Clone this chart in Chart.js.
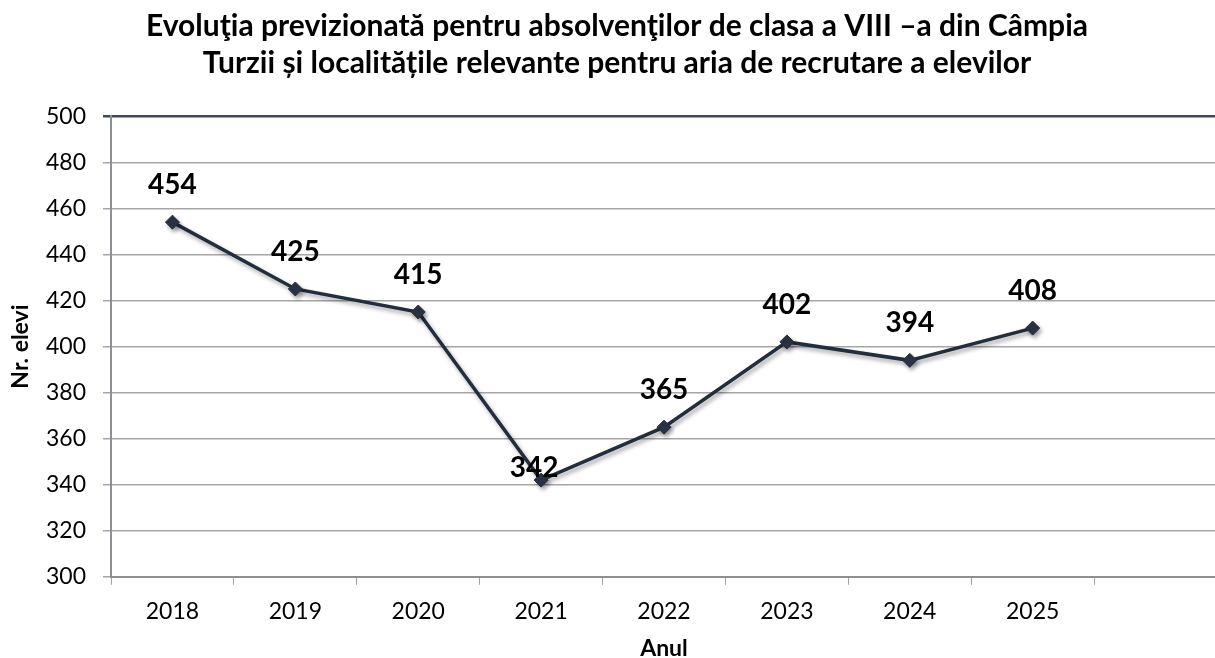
<!DOCTYPE html>
<html>
<head>
<meta charset="utf-8">
<script src="https://cdn.jsdelivr.net/npm/chart.js@4"></script>
<style>
  html, body { margin: 0; padding: 0; background: #fff; overflow: hidden; }
  /* a bit wider than the window: the last category is cut off at the right edge */
  #wrap { width: 1225px; height: 658px; }
  canvas { display: block; }
</style>
</head>
<body>
<div id="wrap"><canvas id="chart"></canvas></div>
<script>
// Chart data
const years = ['2018', '2019', '2020', '2021', '2022', '2023', '2024', '2025', ''];
const students = [454, 425, 415, 342, 365, 402, 394, 408, null];
const yTicks = [300, 320, 340, 360, 380, 400, 420, 440, 460, 480, 500];

const titleLines = [
  'Evoluţia previzionată pentru absolvenţilor de clasa a VIII –a din Câmpia',
  'Turzii și localitățile relevante pentru aria de recrutare a elevilor'
];

const FONT = 'Lato, "Open Sans", sans-serif';

// Shadow under the line
const shadowPlugin = {
  id: 'lineShadow',
  beforeDatasetDraw(chart) {
    const ctx = chart.ctx;
    ctx.save();
    ctx.shadowColor = 'rgba(0, 0, 0, 0.35)';
    ctx.shadowBlur = 4;
    ctx.shadowOffsetX = 2;
    ctx.shadowOffsetY = 3;
  },
  afterDatasetDraw(chart) {
    chart.ctx.restore();
  }
};

// Value labels above points
const valueLabels = {
  id: 'valueLabels',
  afterDatasetsDraw(chart) {
    const ctx = chart.ctx;
    const meta = chart.getDatasetMeta(0);
    ctx.save();
    ctx.font = 'bold 28px ' + FONT;
    ctx.fillStyle = '#000';
    ctx.textAlign = 'center';
    ctx.textBaseline = 'middle';
    meta.data.forEach((pt, i) => {
      const v = students[i];
      if (v == null) return;
      // the low point has its label closer, a bit to the left
      const dx = v === 342 ? -7 : 0;
      const dy = v === 342 ? -12 : -37;
      ctx.fillText(String(v), pt.x + dx, pt.y + dy);
    });
    ctx.restore();
  }
};

const ctx = document.getElementById('chart').getContext('2d');
new Chart(ctx, {
  type: 'line',
  data: {
    labels: years,
    datasets: [{
      data: students,
      borderColor: '#222d3d',
      backgroundColor: '#222d3d',
      borderWidth: 3.5,
      tension: 0,
      pointStyle: 'rectRot',
      pointRadius: 7,
      pointBorderWidth: 1,
      pointBorderColor: '#222d3d',
      pointBackgroundColor: '#2a3445'
    }]
  },
  options: {
    responsive: true,
    maintainAspectRatio: false,
    animation: false,
    layout: { padding: { left: 9, right: 0, top: 0, bottom: 0 } },
    plugins: {
      legend: { display: false },
      tooltip: { enabled: false },
      title: {
        display: true,
        text: titleLines,
        color: '#000',
        font: { family: FONT, size: 30, weight: 'bold', lineHeight: 1.22 },
        padding: { top: 8, bottom: 35 }
      }
    },
    scales: {
      x: {
        offset: true,
        grid: {
          offset: true,
          drawOnChartArea: false,
          drawTicks: true,
          tickLength: 8,
          color: '#a0a4aa',
          lineWidth: 1
        },
        border: { display: true, color: '#8c9096', width: 2 },
        ticks: {
          color: '#000',
          font: { family: FONT, size: 23 },
          padding: 13,
          maxRotation: 0,
          autoSkip: false
        },
        title: {
          display: true,
          text: 'Anul',
          color: '#000',
          font: { family: FONT, size: 23, weight: 'bold', lineHeight: 0.85 },
          padding: { top: 0, bottom: 0 }
        }
      },
      y: {
        min: 300,
        max: 500,
        afterBuildTicks(scale) {
          scale.ticks = yTicks.map(v => ({ value: v }));
        },
        afterFit(scale) {
          scale.width = 102;
        },
        grid: {
          color: c => (c.tick && c.tick.value === 500 ? '#3e4a5a' : '#a6a6a6'),
          lineWidth: c => (c.tick && c.tick.value === 500 ? 2.5 : 1.5),
          tickLength: 8,
          drawTicks: true
        },
        border: { display: true, color: '#8c9096', width: 2 },
        ticks: {
          color: '#000',
          font: { family: FONT, size: 23 },
          padding: 17
        },
        title: {
          display: true,
          text: 'Nr. elevi',
          color: '#000',
          font: { family: FONT, size: 23, weight: 'bold', lineHeight: 1 },
          padding: { top: 0, bottom: 8 }
        }
      }
    }
  },
  plugins: [shadowPlugin, valueLabels]
});
</script>
</body>
</html>
